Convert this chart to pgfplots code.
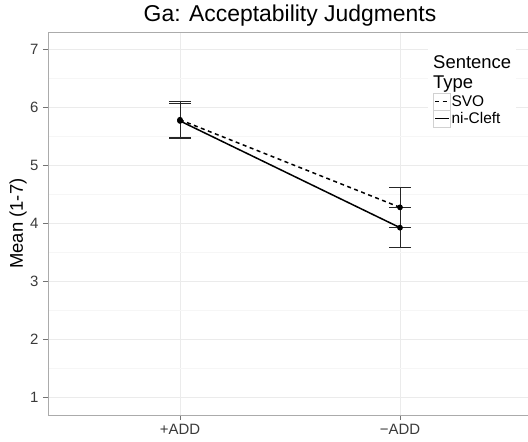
\documentclass[border=0pt]{standalone}
\usepackage{fontspec}
\setmainfont{Liberation Sans}
\usepackage{pgfplots}
\pgfplotsset{compat=1.18}
\definecolor{gridmaj}{HTML}{EBEBEB}
\definecolor{gridmin}{HTML}{F6F6F6}
\definecolor{border}{HTML}{ABABAB}
\definecolor{ticktxt}{HTML}{3A3A3A}
\begin{document}
\begin{tikzpicture}
\begin{axis}[
  at={(48bp,27bp)}, anchor=south west,
  scale only axis, width=484bp, height=382.8bp,
  xmin=0.4, xmax=2.6, ymin=0.7, ymax=7.3,
  xtick={1,2}, xticklabels={+ADD,−ADD},
  ytick={1,2,3,4,5,6,7},
  minor ytick={1.5,2.5,3.5,4.5,5.5,6.5},
  /pgf/number format/assume math mode=true,
  grid=both,
  major grid style={color=gridmaj, line width=0.6bp},
  minor grid style={color=gridmin, line width=0.5bp},
  axis line style={color=border, line width=0.8bp},
  tick align=outside, tick pos=left,
  major tick length=5bp, minor tick length=0pt,
  tick style={color=black!55, line width=0.8bp},
  ticklabel style={font=\fontsize{15}{15}\selectfont, text=ticktxt},
  xticklabel style={yshift=-1bp},
  yticklabel style={xshift=-1bp},
  ylabel={Mean (1-7)},
  ylabel style={font=\fontsize{18.5}{18.5}\selectfont, at={(axis description cs:-0.062,0.5)}, anchor=center},
  title={Ga: Acceptability Judgments},
  title style={font=\fontsize{23}{23}\selectfont, at={(axis description cs:0.5,1)}, anchor=base, yshift=4.5bp},
  legend style={at={(rel axis cs:0.7955,0.8412)}, anchor=north west, draw=none, fill=none,
    inner sep=0pt, row sep=0pt, font=\fontsize{15.5}{15.5}\selectfont,
    nodes={inner sep=1.2bp}},
  legend cell align=left,
  legend image code/.code={
    \draw[solid, color=black!18, line width=0.6bp, fill=white] (0bp,-8.2bp) rectangle (16.5bp,8.2bp);
    \draw[#1, line width=1.4bp] (1.5bp,0bp) -- (15bp,0bp);
  },
]
% legend background
\fill[white] (rel axis cs:0.785,0.968) rectangle (rel axis cs:0.967,0.735);
\node[anchor=north west, inner sep=0pt, align=left, font=\fontsize{18.5}{20}\selectfont]
  at (rel axis cs:0.7955,0.9404) {Sentence\\Type};

\addplot[black, line width=1.5bp, dash pattern=on 4bp off 3.5bp,
  mark=*, mark size=2.1bp, mark options={solid},
  error bars/.cd, y dir=both, y explicit,
  error bar style={solid, line width=1bp, black!85},
  error mark options={solid, rotate=90, mark size=11bp, line width=1bp, black!85}]
  coordinates {(1,5.79) +- (0,0.31) (2,4.28) +- (0,0.35)};
\addlegendentry{SVO}
\addplot[black, line width=1.5bp, solid,
  mark=*, mark size=2.1bp,
  error bars/.cd, y dir=both, y explicit,
  error bar style={solid, line width=1bp, black!85},
  error mark options={solid, rotate=90, mark size=11bp, line width=1bp, black!85}]
  coordinates {(1,5.77) +- (0,0.30) (2,3.93) +- (0,0.35)};
\addlegendentry{ni-Cleft}
\end{axis}
\pgfresetboundingbox
\useasboundingbox (0,0) rectangle (528bp,442bp);
\end{tikzpicture}
\end{document}
